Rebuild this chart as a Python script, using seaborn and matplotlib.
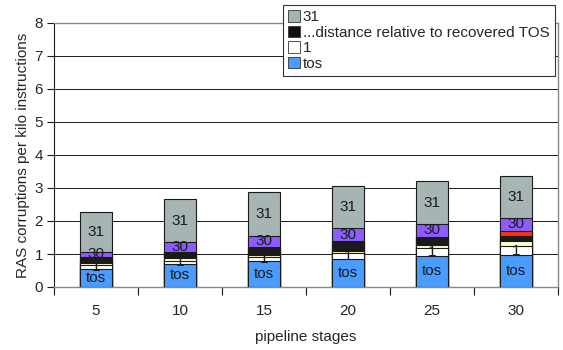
import numpy as np
import pandas as pd
import matplotlib
matplotlib.use("Agg")
import matplotlib.pyplot as plt
import seaborn as sns
from matplotlib.patches import Patch

# pipeline depths on the x axis
stages = ["5", "10", "15", "20", "25", "30"]

# stacked segments, bottom to top (RAS corruptions per kilo instructions)
tos = [0.55, 0.70, 0.78, 0.85, 0.94, 0.96]
seg_1 = [0.12, 0.10, 0.12, 0.17, 0.24, 0.28]
seg_2 = [0.05, 0.08, 0.07, 0.08, 0.10, 0.14]
seg_dark = [0.16, 0.15, 0.21, 0.26, 0.19, 0.17]
seg_red = [0.03, 0.03, 0.03, 0.03, 0.05, 0.15]
seg_30 = [0.15, 0.30, 0.34, 0.40, 0.39, 0.39]
seg_31 = [1.21, 1.31, 1.33, 1.27, 1.30, 1.27]

segments = ["tos", "1", "2", "dist", "29", "30", "31"]
values = [tos, seg_1, seg_2, seg_dark, seg_red, seg_30, seg_31]
colors = ["#4a9cff", "#ffffff", "#ffffcc", "#1a1a1a", "#ff3300", "#8c5cff", "#a6b5b4"]
inner_labels = {"tos": "tos", "1": "1", "30": "30", "31": "31"}

df = pd.DataFrame({name: vals for name, vals in zip(segments, values)})
df["stage"] = stages
cum = df[segments].cumsum(axis=1)

sns.set_style("white")
plt.rcParams["font.family"] = ["Liberation Sans", "DejaVu Sans"]

fig = plt.figure(figsize=(5.63, 3.5), dpi=100)
ax = fig.add_axes([54 / 563, 63 / 350, 504 / 563, 264 / 350])

# draw cumulative totals from the top segment down so lower ones cover upper
for name, color in reversed(list(zip(segments, colors))):
    sns.barplot(x=df["stage"], y=cum[name], color=color, order=stages,
                width=0.39, edgecolor="#1a1a1a", linewidth=0.8,
                saturation=1, ax=ax, zorder=3)

# segment labels
for name, lab in inner_labels.items():
    top = cum[name].values
    height = df[name].values
    for i in range(len(stages)):
        ax.text(i, top[i] - height[i] / 2, lab, ha="center", va="center",
                fontsize=11, color="#1a1a1a", zorder=5)

ax.set_ylim(0, 8)
ax.set_xlim(-0.5, len(stages) - 0.5)
ax.set_yticks(range(0, 9))
ax.yaxis.grid(True, color="#1a1a1a", linewidth=0.7, zorder=0)
ax.set_axisbelow(True)

ax.set_xticks(np.arange(-0.5, len(stages), 1.0))
ax.set_xticklabels([])
ax.set_xticks(range(len(stages)), minor=True)
ax.set_xticklabels(stages, minor=True)
ax.tick_params(axis="x", which="major", direction="out", length=6, width=0.8, color="#1a1a1a")
ax.tick_params(axis="x", which="minor", length=0, pad=12, labelsize=11)
ax.tick_params(axis="y", direction="out", length=5, width=0.8, color="#1a1a1a", labelsize=11, pad=3)
ax.tick_params(bottom=True, left=True)

for side in ["top", "right", "bottom"]:
    ax.spines[side].set_color("#888888")
    ax.spines[side].set_linewidth(1.0)
ax.spines["left"].set_color("#1a1a1a")
ax.spines["left"].set_linewidth(0.8)

ax.set_xlabel("pipeline stages", fontsize=11, labelpad=9)
ax.set_ylabel("RAS corruptions per kilo instructions", fontsize=11, labelpad=3)

handles = [Patch(facecolor="#a6b5b4", edgecolor="#333333", linewidth=0.6),
           Patch(facecolor="#111111", edgecolor="#333333", linewidth=0.6),
           Patch(facecolor="#ffffff", edgecolor="#333333", linewidth=0.6),
           Patch(facecolor="#4a9cff", edgecolor="#333333", linewidth=0.6)]
leg = fig.legend(handles, ["31", "...distance relative to recovered TOS", "1", "tos"],
                 loc="upper left", bbox_to_anchor=(283 / 563, 0.986), fontsize=11,
                 handlelength=0.75, handleheight=0.75, handletextpad=0.2,
                 labelspacing=0.1, borderpad=0.35, fancybox=False, framealpha=1,
                 borderaxespad=0)
leg.get_frame().set_edgecolor("#333333")
leg.get_frame().set_linewidth(0.8)
leg._legend_box.sep = 2
for t in leg.get_texts():
    t.set_x(0)
leg.set_bbox_to_anchor((283 / 563, 0.986), transform=fig.transFigure)

fig.savefig("out.png", dpi=100)
